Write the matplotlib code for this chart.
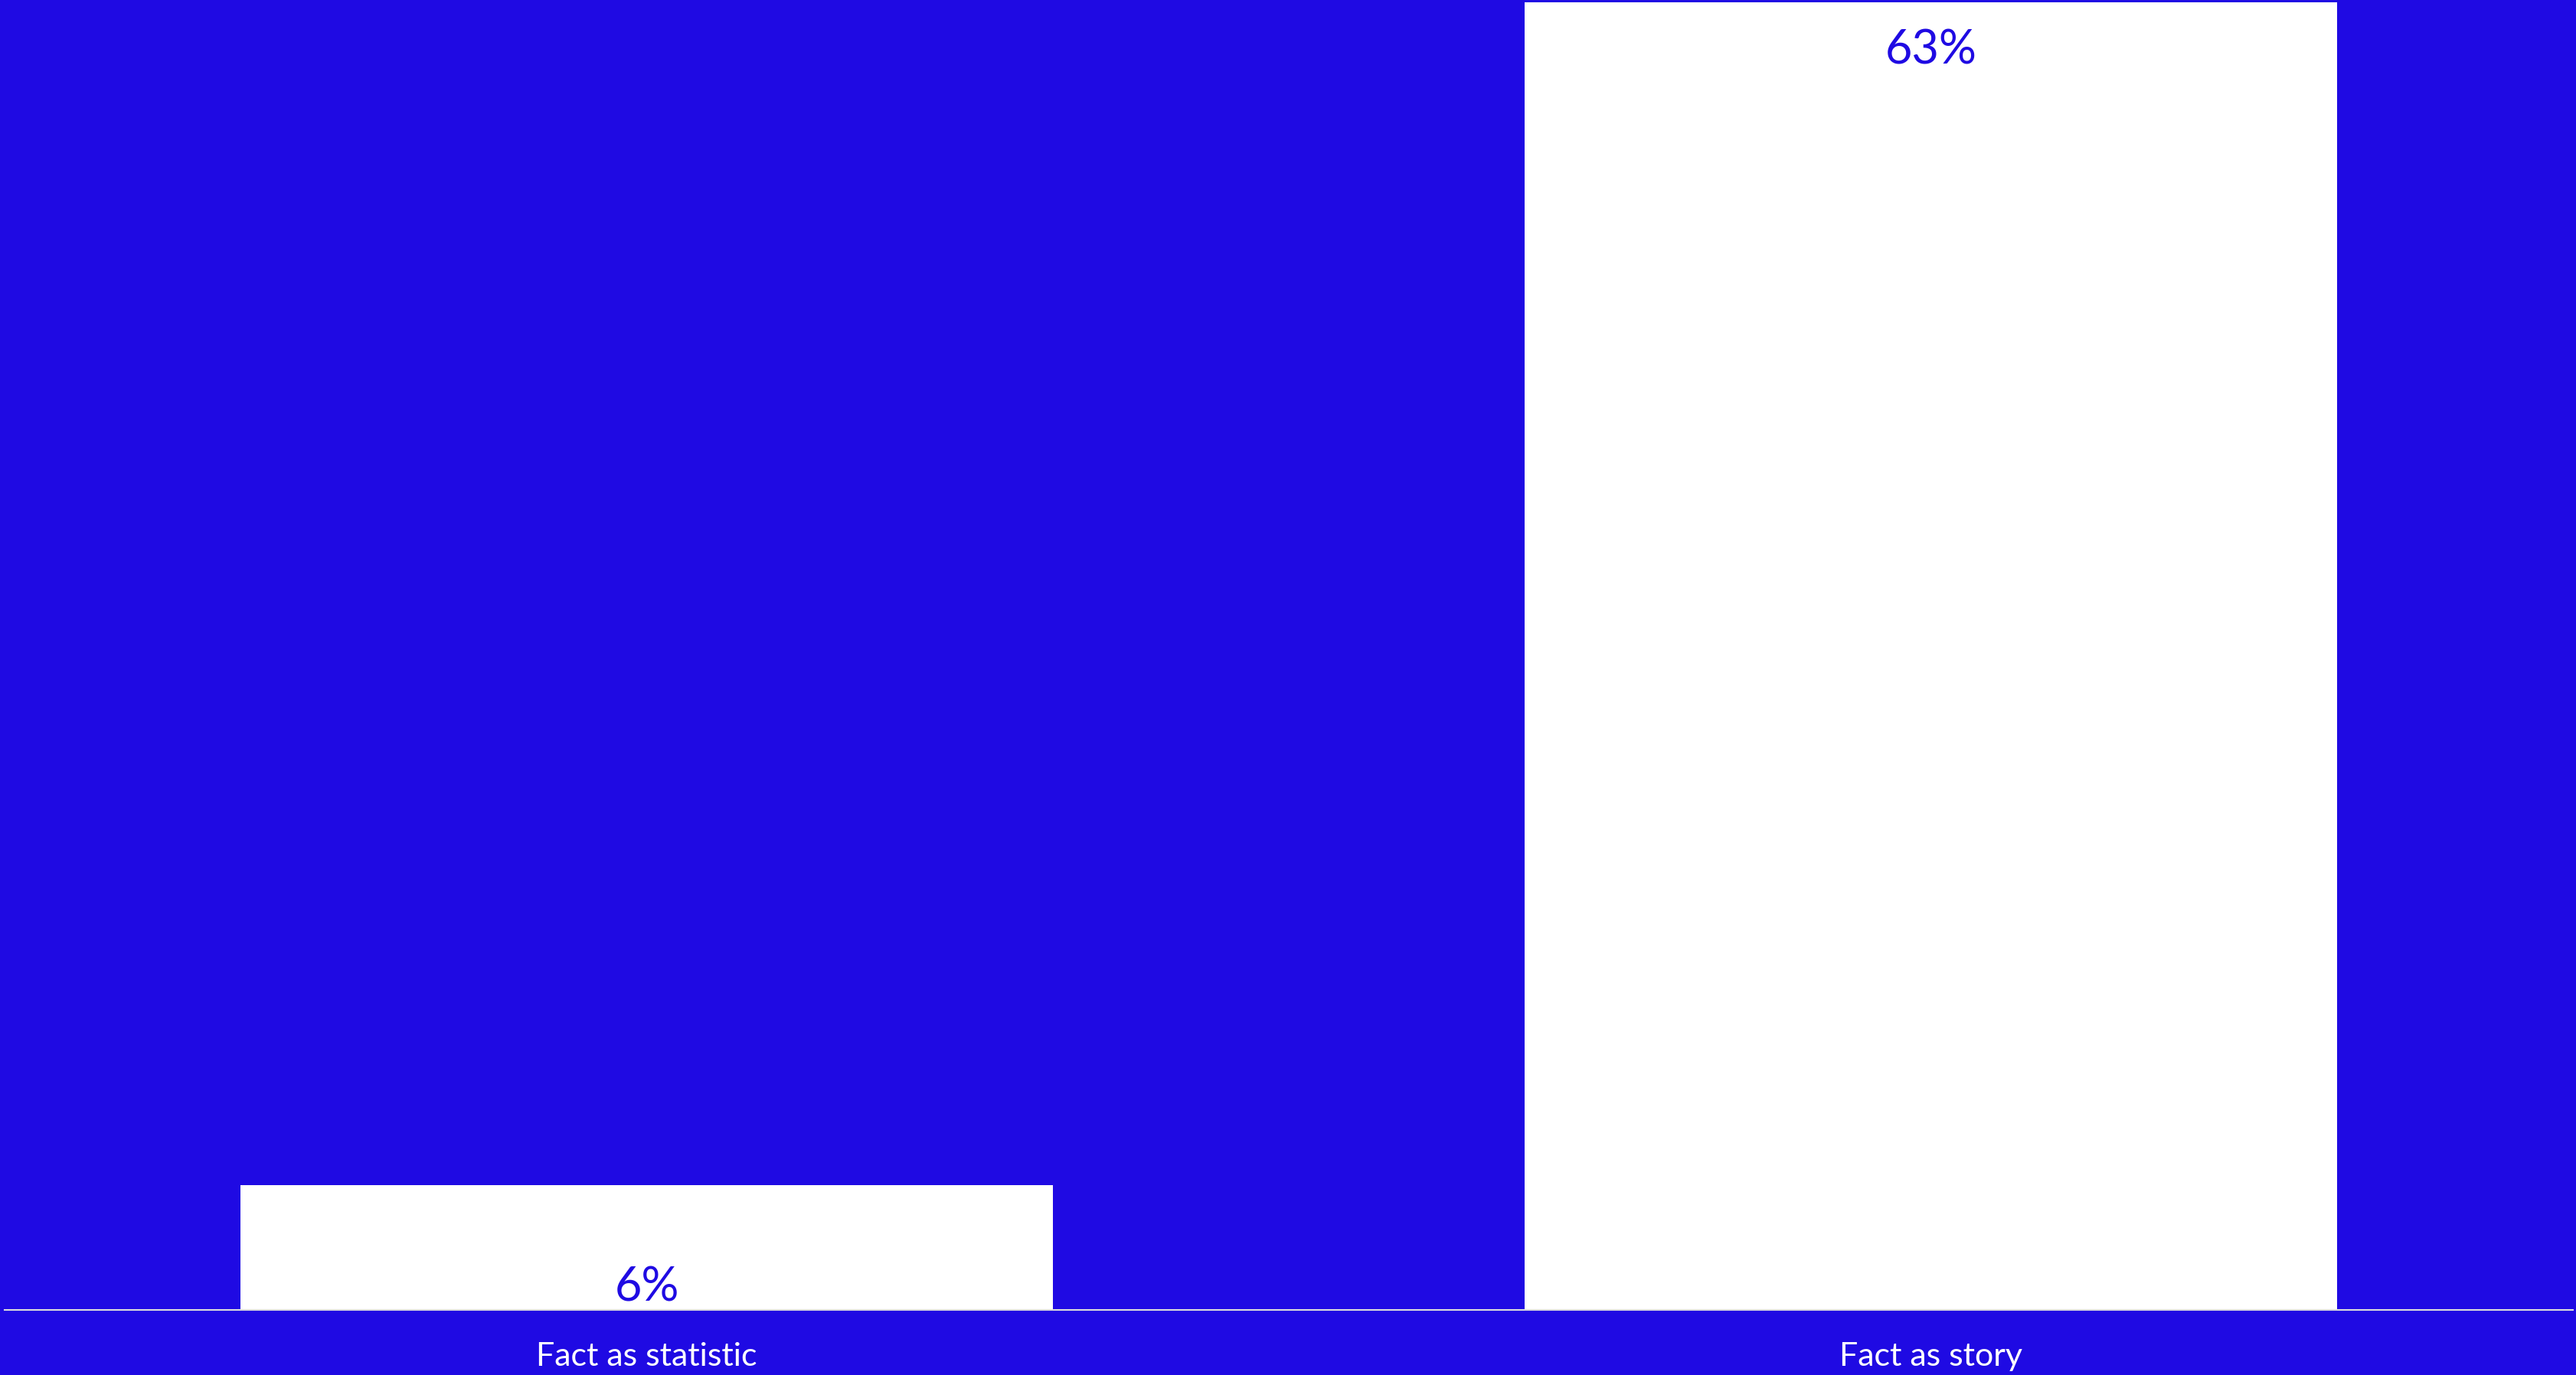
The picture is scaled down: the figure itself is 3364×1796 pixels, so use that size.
import matplotlib
matplotlib.use("Agg")
import matplotlib.pyplot as plt

categories = ["Fact as statistic", "Fact as story"]
values = [6, 63]
labels = ["6%", "63%"]

BG = "#1F0AE3"
W, H, DPI = 3364, 1796, 100

fig = plt.figure(figsize=(W / DPI, H / DPI), dpi=DPI, facecolor=BG)
ax = fig.add_axes([6 / W, 85 / H, 3354 / W, 1708 / H])
ax.set_facecolor(BG)

x = list(range(len(categories)))
bars = ax.bar(x, values, width=0.633, color="white", zorder=2)
ax.set_xlim(-0.5, 1.5)
ax.set_ylim(0, 63)

for spine in ["top", "right", "left"]:
    ax.spines[spine].set_visible(False)
ax.spines["bottom"].set_color("#dddddd")
ax.spines["bottom"].set_linewidth(1.5)
ax.spines["bottom"].set_zorder(3)
ax.set_yticks([])
ax.set_xticks(x)
ax.set_xticklabels(categories, color="white", fontsize=31, fontfamily="Lato", fontweight="normal")
ax.tick_params(axis="x", length=0, pad=30)

for xi, v, lab in zip(x, values, labels):
    if v > 30:
        ax.annotate(lab, (xi, v), xytext=(0, -35), textcoords="offset pixels",
                    ha="center", va="top", color=BG, fontsize=44,
                    fontfamily="Lato", fontweight="normal", zorder=4)
    else:
        ax.annotate(lab, (xi, 0), xytext=(0, 11), textcoords="offset pixels",
                    ha="center", va="baseline", color=BG, fontsize=44,
                    fontfamily="Lato", fontweight="normal", zorder=4)

fig.savefig("out.png", dpi=DPI, facecolor=BG)
